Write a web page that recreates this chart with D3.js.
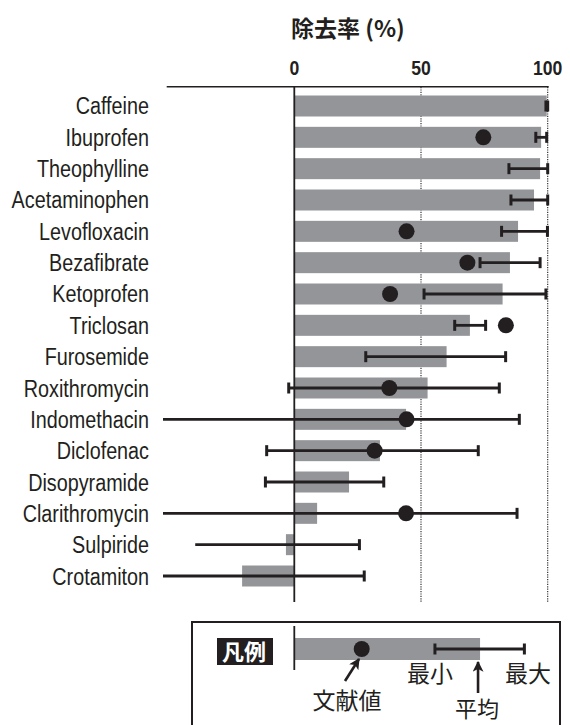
<!DOCTYPE html>
<html>
<head>
<meta charset="utf-8">
<script src="https://cdn.jsdelivr.net/npm/d3@7"></script>
<style>
  html, body { margin: 0; padding: 0; background: #fff; }
  svg { display: block; }
</style>
</head>
<body>
<svg id="chart" width="570" height="725"></svg>
<script>
// ---- data ----
const compounds = ["Caffeine","Ibuprofen","Theophylline","Acetaminophen","Levofloxacin","Bezafibrate","Ketoprofen","Triclosan","Furosemide","Roxithromycin","Indomethacin","Diclofenac","Disopyramide","Clarithromycin","Sulpiride","Crotamiton"];
const meanRemoval = [99.6, 97.4, 97.0, 94.6, 88.3, 85.1, 82.2, 69.3, 60.1, 52.6, 44.1, 33.8, 21.6, 9.0, -3.3, -20.6];
const minRemoval  = [99.3, 95.3, 84.7, 85.5, 81.8, 73.3, 51.2, 63.3, 28.2, -2.2, -60, -10.9, -11.4, -60, -39.1, -60];
const maxRemoval  = [100, 99.6, 100, 100, 99.9, 97.0, 99.3, 75.5, 83.4, 80.9, 88.8, 72.6, 35.3, 87.9, 25.7, 27.6];
const minHasCap   = [true, true, true, true, true, true, true, true, true, true, false, true, true, false, false, false];
const literature  = [null, 74.6, null, null, 44.3, 68.3, 37.8, 83.5, null, 37.5, 44.3, 31.7, null, 44.1, null, null];
const tickValues = [0, 50, 100];
const titleText = "除去率 (%)";
// legend sample values
const legendMean = 73.3, legendLit = 26.6, legendMin = 55.5, legendMax = 90.8;
const legendLabels = {title: "凡例", min: "最小", max: "最大", lit: "文献値", mean: "平均"};

// ---- setup ----
const ink = "#231f20", barFill = "#939598";
const svg = d3.select("#chart");
const x = d3.scaleLinear().domain([0, 100]).range([294.3, 547.7]);
const y = d3.scaleBand().domain(compounds).range([90.33, 591.67]).paddingInner(0.33).paddingOuter(0.165);
const bw = y.bandwidth();
const rows = compounds.map((c, i) => ({name: c, mean: meanRemoval[i], min: minRemoval[i], max: maxRemoval[i], cap: minHasCap[i], lit: literature[i]}));
const cjk = "'Noto Sans CJK JP', sans-serif";

function text(g, str, tx, ty, opts) {
  return g.append("text")
    .attr("transform", `translate(${tx},${ty}) scale(${opts.sx || 1},1)`)
    .attr("text-anchor", opts.anchor || "start")
    .attr("font-family", opts.family || "'Liberation Sans', Arial, sans-serif")
    .attr("font-size", opts.size)
    .attr("font-weight", opts.weight || "normal")
    .attr("fill", opts.fill || ink)
    .text(str);
}

// title
text(svg, titleText, 291, 36.5, {anchor: "start", size: 23, weight: "bold", family: cjk});

// top axis tick labels
tickValues.forEach(v => text(svg, String(v), x(v), 74.5, {anchor: "middle", size: 20, weight: "bold", sx: 0.88}));

// top axis line
svg.append("line").attr("x1", 166.7).attr("x2", x(100) + 1).attr("y1", 86.8).attr("y2", 86.8)
  .attr("stroke", ink).attr("stroke-width", 1.4);

// dotted gridlines
[50, 100].forEach(v => svg.append("line").attr("x1", x(v)).attr("x2", x(v)).attr("y1", 87).attr("y2", 602)
  .attr("stroke", ink).attr("stroke-width", 1.1).attr("stroke-dasharray", "1.2,1.2"));

// bars
svg.append("g").selectAll("rect").data(rows).join("rect")
  .attr("x", d => Math.min(x(0), x(d.mean)))
  .attr("width", d => Math.abs(x(d.mean) - x(0)))
  .attr("y", d => y(d.name))
  .attr("height", bw)
  .attr("fill", barFill);

// zero line
svg.append("line").attr("x1", x(0)).attr("x2", x(0)).attr("y1", 86).attr("y2", 602)
  .attr("stroke", ink).attr("stroke-width", 1.8);

// error bars, clipped at left
svg.append("clipPath").attr("id", "clipErr").append("rect")
  .attr("x", 163).attr("y", 80).attr("width", 400).attr("height", 540);
const eg = svg.append("g").attr("clip-path", "url(#clipErr)");
const capH = 11;
rows.forEach(d => {
  const cy = y(d.name) + bw / 2;
  eg.append("line").attr("x1", x(d.min)).attr("x2", x(d.max)).attr("y1", cy).attr("y2", cy)
    .attr("stroke", ink).attr("stroke-width", 2.8);
  if (d.cap) eg.append("line").attr("x1", x(d.min)).attr("x2", x(d.min)).attr("y1", cy - capH / 2).attr("y2", cy + capH / 2)
    .attr("stroke", ink).attr("stroke-width", 3);
  eg.append("line").attr("x1", x(d.max)).attr("x2", x(d.max)).attr("y1", cy - capH / 2).attr("y2", cy + capH / 2)
    .attr("stroke", ink).attr("stroke-width", 3);
});

// literature dots
svg.append("g").selectAll("circle").data(rows.filter(d => d.lit !== null)).join("circle")
  .attr("cx", d => x(d.lit)).attr("cy", d => y(d.name) + bw / 2).attr("r", 8)
  .attr("fill", ink);

// category labels
rows.forEach(d => text(svg, d.name, 149, y(d.name) + bw / 2 + 8.5, {anchor: "end", size: 23, sx: 0.86}));

// ---- legend ----
const lg = svg.append("g");
lg.append("rect").attr("x", 192).attr("y", 622).attr("width", 368).attr("height", 120)
  .attr("fill", "none").attr("stroke", ink).attr("stroke-width", 2);
lg.append("rect").attr("x", 217).attr("y", 638).attr("width", 56).attr("height", 27).attr("fill", ink);
text(lg, legendLabels.title, 244, 660, {anchor: "middle", size: 22, weight: "bold", fill: "#fff", family: cjk});
const ly = 649;
lg.append("rect").attr("x", x(0)).attr("y", 638).attr("width", x(legendMean) - x(0)).attr("height", 22).attr("fill", barFill);
lg.append("line").attr("x1", x(0)).attr("x2", x(0)).attr("y1", 626).attr("y2", 670).attr("stroke", ink).attr("stroke-width", 1.8);
lg.append("line").attr("x1", x(legendMin)).attr("x2", x(legendMax)).attr("y1", ly).attr("y2", ly).attr("stroke", ink).attr("stroke-width", 2.8);
[legendMin, legendMax].forEach(v => lg.append("line").attr("x1", x(v)).attr("x2", x(v)).attr("y1", ly - capH / 2).attr("y2", ly + capH / 2)
  .attr("stroke", ink).attr("stroke-width", 3));
lg.append("circle").attr("cx", x(legendLit)).attr("cy", ly).attr("r", 8).attr("fill", ink);

// arrows
svg.append("defs").append("marker").attr("id", "arrow").attr("viewBox", "0 0 10 10")
  .attr("refX", 9).attr("refY", 5).attr("markerWidth", 4.2).attr("markerHeight", 4.2)
  .attr("orient", "auto").attr("markerUnits", "strokeWidth")
  .append("path").attr("d", "M0,0 L10,5 L0,10 L2.5,5 z").attr("fill", ink);
lg.append("line").attr("x1", 345).attr("y1", 681).attr("x2", 359).attr("y2", 659)
  .attr("stroke", ink).attr("stroke-width", 2.6).attr("marker-end", "url(#arrow)");
lg.append("line").attr("x1", x(legendMean) - 2).attr("y1", 693).attr("x2", x(legendMean) - 2).attr("y2", 662)
  .attr("stroke", ink).attr("stroke-width", 2.6).attr("marker-end", "url(#arrow)");

text(lg, legendLabels.min, 430, 681.5, {anchor: "middle", size: 23, family: cjk});
text(lg, legendLabels.max, 528, 681.5, {anchor: "middle", size: 23, family: cjk});
text(lg, legendLabels.lit, 347, 709, {anchor: "middle", size: 23, family: cjk});
text(lg, legendLabels.mean, 477, 716.5, {anchor: "middle", size: 22, family: cjk});
</script>
</body>
</html>
